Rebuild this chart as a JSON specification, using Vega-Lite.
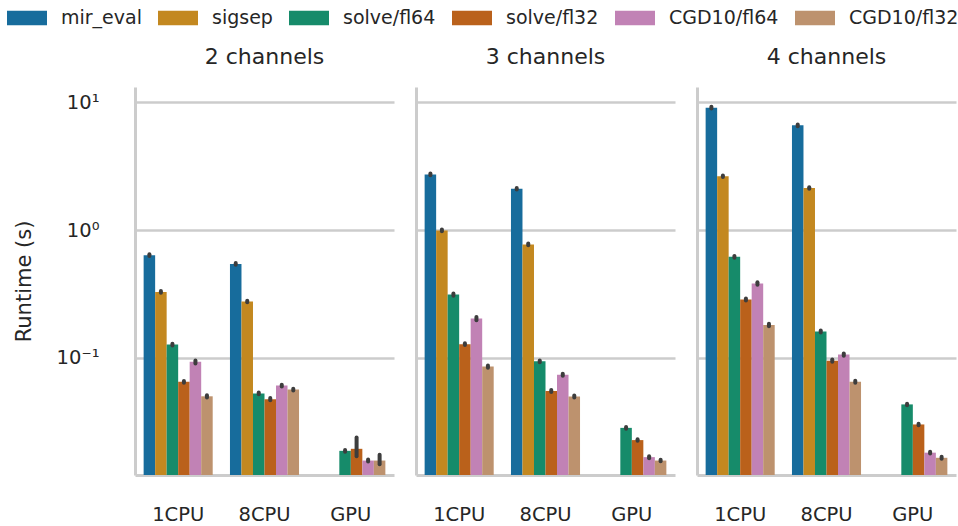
{
  "$schema": "https://vega.github.io/schema/vega-lite/v6.json",
  "padding": {"left": 7, "top": -2, "right": 0, "bottom": 0},
  "config": {
    "font": "DejaVu Sans",
    "view": {"stroke": null},
    "axis": {"labelFont": "DejaVu Sans", "titleFont": "DejaVu Sans", "labelColor": "#262626", "titleColor": "#262626", "ticks": false, "domainColor": "#cccccc", "domainWidth": 3, "gridColor": "#cccccc", "gridWidth": 2.5},
    "title": {"font": "DejaVu Sans", "fontSize": 22, "fontWeight": "normal", "color": "#262626", "offset": 18}
  },
  "datasets": {
    "d": [
      {"ch": "2 channels", "dev": "1CPU", "method": "mir_eval", "t": 0.637, "lo": 0.627, "hi": 0.647},
      {"ch": "2 channels", "dev": "1CPU", "method": "sigsep", "t": 0.328, "lo": 0.323, "hi": 0.333},
      {"ch": "2 channels", "dev": "1CPU", "method": "solve/fl64", "t": 0.127, "lo": 0.125, "hi": 0.129},
      {"ch": "2 channels", "dev": "1CPU", "method": "solve/fl32", "t": 0.0649, "lo": 0.0639, "hi": 0.0659},
      {"ch": "2 channels", "dev": "1CPU", "method": "CGD10/fl64", "t": 0.093, "lo": 0.0905, "hi": 0.0955},
      {"ch": "2 channels", "dev": "1CPU", "method": "CGD10/fl32", "t": 0.050, "lo": 0.0490, "hi": 0.0510},
      {"ch": "2 channels", "dev": "8CPU", "method": "mir_eval", "t": 0.544, "lo": 0.536, "hi": 0.552},
      {"ch": "2 channels", "dev": "8CPU", "method": "sigsep", "t": 0.276, "lo": 0.272, "hi": 0.280},
      {"ch": "2 channels", "dev": "8CPU", "method": "solve/fl64", "t": 0.0527, "lo": 0.0518, "hi": 0.0536},
      {"ch": "2 channels", "dev": "8CPU", "method": "solve/fl32", "t": 0.0475, "lo": 0.0465, "hi": 0.0485},
      {"ch": "2 channels", "dev": "8CPU", "method": "CGD10/fl64", "t": 0.0607, "lo": 0.0597, "hi": 0.0617},
      {"ch": "2 channels", "dev": "8CPU", "method": "CGD10/fl32", "t": 0.0564, "lo": 0.0554, "hi": 0.0574},
      {"ch": "2 channels", "dev": "GPU", "method": "solve/fl64", "t": 0.0187, "lo": 0.0184, "hi": 0.0190},
      {"ch": "2 channels", "dev": "GPU", "method": "solve/fl32", "t": 0.0194, "lo": 0.0170, "hi": 0.0238},
      {"ch": "2 channels", "dev": "GPU", "method": "CGD10/fl64", "t": 0.0157, "lo": 0.0154, "hi": 0.0160},
      {"ch": "2 channels", "dev": "GPU", "method": "CGD10/fl32", "t": 0.0157, "lo": 0.0147, "hi": 0.0174},
      {"ch": "3 channels", "dev": "1CPU", "method": "mir_eval", "t": 2.73, "lo": 2.69, "hi": 2.77},
      {"ch": "3 channels", "dev": "1CPU", "method": "sigsep", "t": 0.995, "lo": 0.98, "hi": 1.01},
      {"ch": "3 channels", "dev": "1CPU", "method": "solve/fl64", "t": 0.313, "lo": 0.307, "hi": 0.319},
      {"ch": "3 channels", "dev": "1CPU", "method": "solve/fl32", "t": 0.128, "lo": 0.126, "hi": 0.130},
      {"ch": "3 channels", "dev": "1CPU", "method": "CGD10/fl64", "t": 0.203, "lo": 0.197, "hi": 0.209},
      {"ch": "3 channels", "dev": "1CPU", "method": "CGD10/fl32", "t": 0.0855, "lo": 0.0838, "hi": 0.0872},
      {"ch": "3 channels", "dev": "8CPU", "method": "mir_eval", "t": 2.11, "lo": 2.08, "hi": 2.14},
      {"ch": "3 channels", "dev": "8CPU", "method": "sigsep", "t": 0.773, "lo": 0.762, "hi": 0.784},
      {"ch": "3 channels", "dev": "8CPU", "method": "solve/fl64", "t": 0.094, "lo": 0.0925, "hi": 0.0955},
      {"ch": "3 channels", "dev": "8CPU", "method": "solve/fl32", "t": 0.055, "lo": 0.0541, "hi": 0.0559},
      {"ch": "3 channels", "dev": "8CPU", "method": "CGD10/fl64", "t": 0.0738, "lo": 0.0725, "hi": 0.0751},
      {"ch": "3 channels", "dev": "8CPU", "method": "CGD10/fl32", "t": 0.0499, "lo": 0.0490, "hi": 0.0508},
      {"ch": "3 channels", "dev": "GPU", "method": "solve/fl64", "t": 0.0283, "lo": 0.0279, "hi": 0.0287},
      {"ch": "3 channels", "dev": "GPU", "method": "solve/fl32", "t": 0.0227, "lo": 0.0224, "hi": 0.0230},
      {"ch": "3 channels", "dev": "GPU", "method": "CGD10/fl64", "t": 0.0167, "lo": 0.0164, "hi": 0.0170},
      {"ch": "3 channels", "dev": "GPU", "method": "CGD10/fl32", "t": 0.0157, "lo": 0.0155, "hi": 0.0159},
      {"ch": "4 channels", "dev": "1CPU", "method": "mir_eval", "t": 9.1, "lo": 8.95, "hi": 9.25},
      {"ch": "4 channels", "dev": "1CPU", "method": "sigsep", "t": 2.64, "lo": 2.60, "hi": 2.68},
      {"ch": "4 channels", "dev": "1CPU", "method": "solve/fl64", "t": 0.618, "lo": 0.608, "hi": 0.628},
      {"ch": "4 channels", "dev": "1CPU", "method": "solve/fl32", "t": 0.286, "lo": 0.281, "hi": 0.291},
      {"ch": "4 channels", "dev": "1CPU", "method": "CGD10/fl64", "t": 0.382, "lo": 0.373, "hi": 0.391},
      {"ch": "4 channels", "dev": "1CPU", "method": "CGD10/fl32", "t": 0.181, "lo": 0.177, "hi": 0.185},
      {"ch": "4 channels", "dev": "8CPU", "method": "mir_eval", "t": 6.62, "lo": 6.52, "hi": 6.72},
      {"ch": "4 channels", "dev": "8CPU", "method": "sigsep", "t": 2.14, "lo": 2.11, "hi": 2.17},
      {"ch": "4 channels", "dev": "8CPU", "method": "solve/fl64", "t": 0.161, "lo": 0.158, "hi": 0.164},
      {"ch": "4 channels", "dev": "8CPU", "method": "solve/fl32", "t": 0.095, "lo": 0.093, "hi": 0.097},
      {"ch": "4 channels", "dev": "8CPU", "method": "CGD10/fl64", "t": 0.106, "lo": 0.104, "hi": 0.108},
      {"ch": "4 channels", "dev": "8CPU", "method": "CGD10/fl32", "t": 0.065, "lo": 0.0638, "hi": 0.0662},
      {"ch": "4 channels", "dev": "GPU", "method": "solve/fl64", "t": 0.0432, "lo": 0.0426, "hi": 0.0438},
      {"ch": "4 channels", "dev": "GPU", "method": "solve/fl32", "t": 0.0301, "lo": 0.0297, "hi": 0.0305},
      {"ch": "4 channels", "dev": "GPU", "method": "CGD10/fl64", "t": 0.0181, "lo": 0.0178, "hi": 0.0184},
      {"ch": "4 channels", "dev": "GPU", "method": "CGD10/fl32", "t": 0.0165, "lo": 0.0162, "hi": 0.0168}
    ]
  },
  "spacing": 22,
  "hconcat": [
    {
      "title": "2 channels",
      "width": 259, "height": 388,
      "data": {"name": "d"},
      "transform": [{"filter": "datum.ch == '2 channels'"}],
      "encoding": {
        "x": {"field": "dev", "type": "nominal", "sort": ["1CPU", "8CPU", "GPU"], "scale": {"paddingInner": 0.2, "paddingOuter": 0.1}, "axis": {"title": null, "labelAngle": 0, "labelFontSize": 19.5, "labelPadding": 30}},
        "xOffset": {"field": "method", "type": "nominal", "sort": ["mir_eval", "sigsep", "solve/fl64", "solve/fl32", "CGD10/fl64", "CGD10/fl32"], "scale": {"domain": ["mir_eval", "sigsep", "solve/fl64", "solve/fl32", "CGD10/fl64", "CGD10/fl32"], "paddingInner": 0, "paddingOuter": 0}}
      },
      "layer": [
        {
          "mark": {"type": "bar"},
          "encoding": {
            "y": {"field": "t", "type": "quantitative", "scale": {"type": "log", "domain": [0.0121, 13.2], "nice": false}, "axis": {"title": "Runtime (s)", "titleFontSize": 21, "titleFontWeight": "normal", "titlePadding": 22, "labelFontSize": 19.5, "labelPadding": 36, "values": [0.1, 1, 10], "labelExpr": "datum.value == 10 ? '10¹' : datum.value == 1 ? '10⁰' : '10⁻¹'"}},
            "y2": {"datum": 0.0121},
            "color": {"field": "method", "type": "nominal", "scale": {"domain": ["mir_eval", "sigsep", "solve/fl64", "solve/fl32", "CGD10/fl64", "CGD10/fl32"], "range": ["#176c9c", "#c38820", "#168b6a", "#ba611b", "#c182b5", "#bd926e"]}, "legend": {"orient": "none", "legendX": -128, "legendY": -89, "padding": 0, "direction": "horizontal", "columns": 6, "title": null, "symbolType": "M-1,-0.36H1V0.36H-1Z", "symbolSize": 1600, "symbolStrokeWidth": 0, "symbolOpacity": 1, "labelFontSize": 19, "labelColor": "#262626", "labelOffset": 14, "columnPadding": 16}}
          }
        },
        {
          "mark": {"type": "rule", "color": "#3d3d3d", "strokeWidth": 4, "strokeCap": "round"},
          "encoding": {"y": {"field": "lo", "type": "quantitative"}, "y2": {"field": "hi"}}
        }
      ]
    },
    {
      "title": "3 channels",
      "width": 259, "height": 388,
      "data": {"name": "d"},
      "transform": [{"filter": "datum.ch == '3 channels'"}],
      "encoding": {
        "x": {"field": "dev", "type": "nominal", "sort": ["1CPU", "8CPU", "GPU"], "scale": {"paddingInner": 0.2, "paddingOuter": 0.1}, "axis": {"title": null, "labelAngle": 0, "labelFontSize": 19.5, "labelPadding": 30}},
        "xOffset": {"field": "method", "type": "nominal", "sort": ["mir_eval", "sigsep", "solve/fl64", "solve/fl32", "CGD10/fl64", "CGD10/fl32"], "scale": {"domain": ["mir_eval", "sigsep", "solve/fl64", "solve/fl32", "CGD10/fl64", "CGD10/fl32"], "paddingInner": 0, "paddingOuter": 0}}
      },
      "layer": [
        {
          "mark": {"type": "bar"},
          "encoding": {
            "y": {"field": "t", "type": "quantitative", "scale": {"type": "log", "domain": [0.0121, 13.2], "nice": false}, "axis": {"title": null, "labels": false, "values": [0.1, 1, 10]}},
            "y2": {"datum": 0.0121},
            "color": {"field": "method", "type": "nominal", "scale": {"domain": ["mir_eval", "sigsep", "solve/fl64", "solve/fl32", "CGD10/fl64", "CGD10/fl32"], "range": ["#176c9c", "#c38820", "#168b6a", "#ba611b", "#c182b5", "#bd926e"]}}
          }
        },
        {
          "mark": {"type": "rule", "color": "#3d3d3d", "strokeWidth": 4, "strokeCap": "round"},
          "encoding": {"y": {"field": "lo", "type": "quantitative"}, "y2": {"field": "hi"}}
        }
      ]
    },
    {
      "title": "4 channels",
      "width": 259, "height": 388,
      "data": {"name": "d"},
      "transform": [{"filter": "datum.ch == '4 channels'"}],
      "encoding": {
        "x": {"field": "dev", "type": "nominal", "sort": ["1CPU", "8CPU", "GPU"], "scale": {"paddingInner": 0.2, "paddingOuter": 0.1}, "axis": {"title": null, "labelAngle": 0, "labelFontSize": 19.5, "labelPadding": 30}},
        "xOffset": {"field": "method", "type": "nominal", "sort": ["mir_eval", "sigsep", "solve/fl64", "solve/fl32", "CGD10/fl64", "CGD10/fl32"], "scale": {"domain": ["mir_eval", "sigsep", "solve/fl64", "solve/fl32", "CGD10/fl64", "CGD10/fl32"], "paddingInner": 0, "paddingOuter": 0}}
      },
      "layer": [
        {
          "mark": {"type": "bar"},
          "encoding": {
            "y": {"field": "t", "type": "quantitative", "scale": {"type": "log", "domain": [0.0121, 13.2], "nice": false}, "axis": {"title": null, "labels": false, "values": [0.1, 1, 10]}},
            "y2": {"datum": 0.0121},
            "color": {"field": "method", "type": "nominal", "scale": {"domain": ["mir_eval", "sigsep", "solve/fl64", "solve/fl32", "CGD10/fl64", "CGD10/fl32"], "range": ["#176c9c", "#c38820", "#168b6a", "#ba611b", "#c182b5", "#bd926e"]}}
          }
        },
        {
          "mark": {"type": "rule", "color": "#3d3d3d", "strokeWidth": 4, "strokeCap": "round"},
          "encoding": {"y": {"field": "lo", "type": "quantitative"}, "y2": {"field": "hi"}}
        }
      ]
    }
  ]
}
